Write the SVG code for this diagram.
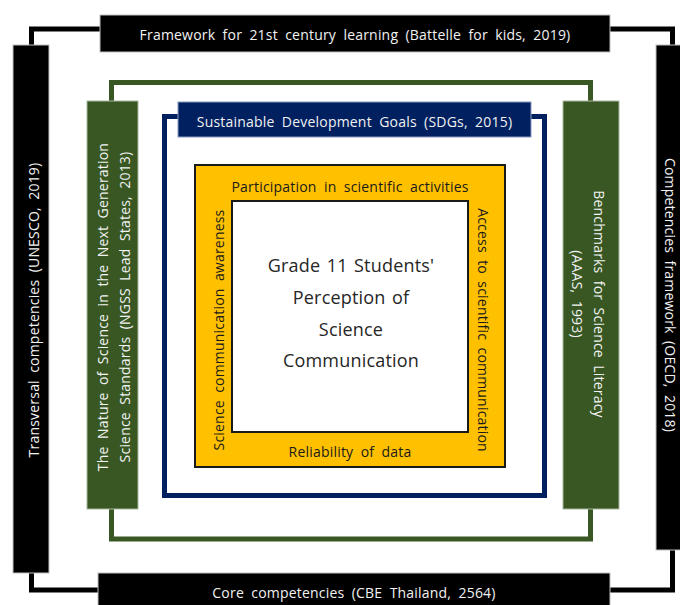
<svg xmlns="http://www.w3.org/2000/svg" width="680" height="605" viewBox="0 0 680 605">
<style>
text{font-family:"Open Sans","Liberation Sans",sans-serif;dominant-baseline:central;text-anchor:middle;word-spacing:3.5px;letter-spacing:0.2px}
.w{fill:#f2f2f2;font-size:14px}
.d{fill:#1a1a1a;font-size:14px}
.c{fill:#262626;font-size:18px;word-spacing:1.5px;letter-spacing:0.2px}
.blk{fill:#000;stroke:#bfbfbf;stroke-width:1}
.grn{fill:#385723;stroke:#a9b79f;stroke-width:1}
.ln{fill:none;stroke-linejoin:miter}
</style>
<rect width="680" height="605" fill="#fff"/>
<g id="connectors">
<path class="ln" d="M100,29 H31.5 V45 M31.5,573 V590 H98 M610,29 H672.5 V45 M672.5,550 V590 H610" stroke="#000" stroke-width="5"/>
<path class="ln" d="M111.5,101 V82.5 H590.5 V101 M111.5,509 V539 H590.5 V509" stroke="#385723" stroke-width="5"/>
<path class="ln" d="M178,116.5 H164.5 V495.5 H544.5 V116.5 H531" stroke="#002060" stroke-width="5"/>
</g>
<g id="top">
<rect class="blk" x="100" y="15" width="510" height="37"/>
<text class="w" x="355" y="34">Framework for 21st century learning (Battelle for kids, 2019)</text>
</g>
<g id="bottom">
<rect class="blk" x="98" y="573" width="512" height="40"/>
<text class="w" x="354" y="592">Core competencies (CBE Thailand, 2564)</text>
</g>
<g id="left">
<rect class="blk" x="13" y="45" width="36" height="528"/>
<text class="w" transform="translate(33,310) rotate(-90)">Transversal competencies (UNESCO, 2019)</text>
</g>
<g id="right">
<rect class="blk" x="656" y="45" width="40" height="505"/>
<text class="w" transform="translate(670,295) rotate(90)">Competencies framework (OECD, 2018)</text>
</g>
<g id="ngss">
<rect class="grn" x="87" y="101" width="51" height="408"/>
<text class="w" transform="translate(102,307) rotate(-90)">The Nature of Science in the Next Generation</text>
<text class="w" transform="translate(124,307) rotate(-90)">Science Standards (NGSS Lead States, 2013)</text>
</g>
<g id="aaas">
<rect class="grn" x="563" y="101" width="56" height="408"/>
<text class="w" transform="translate(599,304) rotate(90)">Benchmarks for Science Literacy</text>
<text class="w" transform="translate(577,294) rotate(90)">(AAAS, 1993)</text>
</g>
<g id="sdg">
<rect x="178" y="102" width="353" height="35" fill="#002060" stroke="#8a9bc0" stroke-width="1"/>
<text class="w" x="354.5" y="121">Sustainable Development Goals (SDGs, 2015)</text>
</g>
<g id="dimensions">
<rect x="195" y="165" width="310" height="302" fill="#FFC000" stroke="#1a1a1a" stroke-width="2"/>
<text class="d" x="350" y="186">Participation in scientific activities</text>
<text class="d" x="350" y="451">Reliability of data</text>
<text class="d" transform="translate(218,330) rotate(-90)">Science communication awareness</text>
<text class="d" transform="translate(483,330) rotate(90)">Access to scientific communication</text>
</g>
<g id="center">
<rect x="232" y="201" width="236" height="231" fill="#fff" stroke="#1a1a1a" stroke-width="2"/>
<text class="c" x="351" y="265">Grade 11 Students'</text>
<text class="c" x="351" y="297">Perception of</text>
<text class="c" x="351" y="329">Science</text>
<text class="c" x="351" y="360">Communication</text>
</g>
</svg>
